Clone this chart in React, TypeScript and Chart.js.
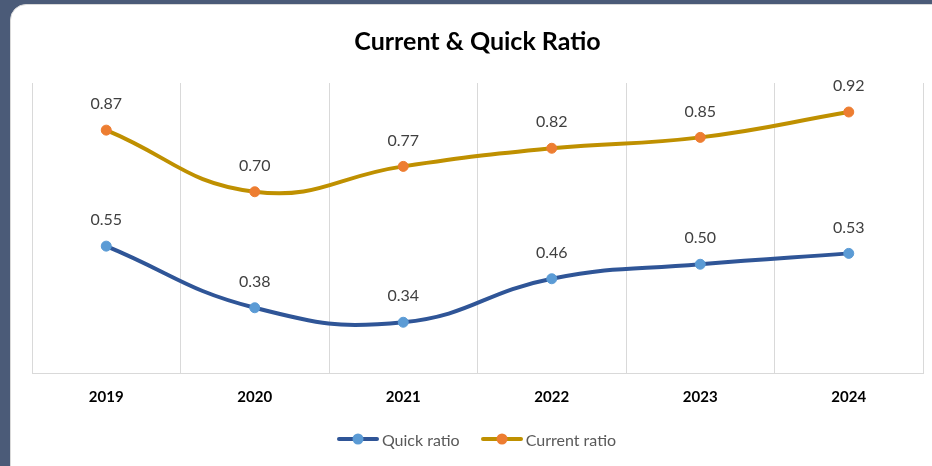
import React, { useEffect, useRef } from "react";
import { Chart, registerables } from "chart.js";

Chart.register(...registerables);

const categories = ["2019", "2020", "2021", "2022", "2023", "2024"];
const quickRatio = [0.55, 0.38, 0.34, 0.46, 0.5, 0.53];
const currentRatio = [0.87, 0.7, 0.77, 0.82, 0.85, 0.92];
const seriesNames = ["Quick ratio", "Current ratio"];
const chartTitle = "Current & Quick Ratio";

const FONT = "Lato, 'Open Sans', sans-serif";

const dataLabelPlugin = {
  id: "dataLabels",
  afterDatasetsDraw(chart: any) {
    const ctx = chart.ctx;
    ctx.save();
    ctx.font = `16px ${FONT}`;
    ctx.fillStyle = "#404040";
    ctx.textAlign = "center";
    ctx.textBaseline = "middle";
    chart.data.datasets.forEach((ds: any, i: number) => {
      const meta = chart.getDatasetMeta(i);
      meta.data.forEach((pt: any, j: number) => {
        ctx.fillText(Number(ds.data[j]).toFixed(2), pt.x, pt.y - 26);
      });
    });
    ctx.restore();
  },
};

function LegendItem({ line, dot, label }: { line: string; dot: string; label: string }) {
  return (
    <div style={{ display: "flex", alignItems: "center", marginRight: 21 }}>
      <svg width={42} height={14} style={{ marginRight: 3 }}>
        <line x1={2} y1={7} x2={40} y2={7} stroke={line} strokeWidth={4} strokeLinecap="round" />
        <circle cx={21} cy={7} r={5.5} fill={dot} />
      </svg>
      <span style={{ fontFamily: FONT, fontSize: 16, color: "#595959" }}>{label}</span>
    </div>
  );
}

export default function App() {
  const canvasRef = useRef<HTMLCanvasElement | null>(null);

  useEffect(() => {
    if (!canvasRef.current) return;
    const chart = new Chart(canvasRef.current, {
      type: "line",
      data: {
        labels: categories,
        datasets: [
          {
            label: seriesNames[0],
            data: quickRatio,
            borderColor: "#2F5597",
            backgroundColor: "#5B9BD5",
            pointBackgroundColor: "#5B9BD5",
            pointBorderColor: "#5B9BD5",
            borderWidth: 4,
            pointRadius: 5,
            pointBorderWidth: 1,
            tension: 0.45,
            fill: false,
          },
          {
            label: seriesNames[1],
            data: currentRatio,
            borderColor: "#BF9000",
            backgroundColor: "#ED7D31",
            pointBackgroundColor: "#ED7D31",
            pointBorderColor: "#ED7D31",
            borderWidth: 4,
            pointRadius: 5,
            pointBorderWidth: 1,
            tension: 0.45,
            fill: false,
          },
        ],
      },
      options: {
        animation: false,
        responsive: true,
        maintainAspectRatio: false,
        layout: { padding: { left: 32, right: 9, top: 27, bottom: 45 } },
        plugins: {
          legend: { display: false },
          tooltip: { enabled: false },
          title: {
            display: true,
            text: chartTitle,
            color: "#000000",
            font: { family: FONT, size: 25, weight: "bold" },
            padding: { top: 0, bottom: 26 },
          },
        },
        scales: {
          x: {
            offset: true,
            grid: { display: true, offset: true, color: "#D9D9D9", lineWidth: 1, drawTicks: false },
            border: { display: true, color: "#D9D9D9", width: 1 },
            ticks: {
              color: "#000000",
              padding: 15,
              font: { family: FONT, size: 15, weight: "bold" },
            },
          },
          y: {
            display: false,
            min: 0.2,
            max: 1.0,
          },
        },
      },
      plugins: [dataLabelPlugin],
    });
    return () => chart.destroy();
  }, []);

  return (
    <div
      style={{
        position: "fixed",
        left: 0,
        top: 0,
        width: 932,
        height: 466,
        background: "#4B5B78",
        overflow: "hidden",
      }}
    >
      <div
        style={{
          position: "absolute",
          left: 10,
          top: 4,
          width: 940,
          height: 480,
          background: "#FFFFFF",
          borderRadius: 16,
          border: "1px solid #D9D9D9",
          boxSizing: "border-box",
        }}
      />
      <div style={{ position: "absolute", left: 0, top: 0, width: 932, height: 466 }}>
        <canvas ref={canvasRef} />
      </div>
      <div
        style={{
          position: "absolute",
          left: 21,
          top: 429,
          width: 932,
          height: 20,
          display: "flex",
          justifyContent: "center",
          alignItems: "center",
        }}
      >
        <LegendItem line="#2F5597" dot="#5B9BD5" label={seriesNames[0]} />
        <LegendItem line="#BF9000" dot="#ED7D31" label={seriesNames[1]} />
      </div>
    </div>
  );
}
